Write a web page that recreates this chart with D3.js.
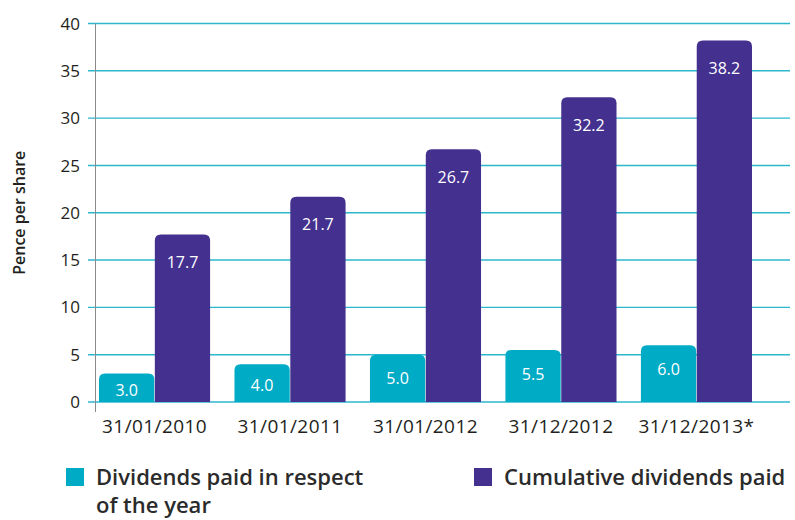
<!DOCTYPE html>
<html>
<head>
<meta charset="utf-8">
<script src="https://cdn.jsdelivr.net/npm/d3@7"></script>
<style>
  body { margin: 0; background: #fff; }
  svg { display: block; font-family: "Open Sans", "Noto Sans", sans-serif; }
</style>
</head>
<body>
<div id="chart"></div>
<script>
// data
var periods = ["31/01/2010", "31/01/2011", "31/01/2012", "31/12/2012", "31/12/2013*"];
var yearDividends = [3.0, 4.0, 5.0, 5.5, 6.0];
var cumulativeDividends = [17.7, 21.7, 26.7, 32.2, 38.2];
var seriesNames = ["Dividends paid in respect of the year", "Cumulative dividends paid"];
var seriesColors = ["#00abc6", "#44318f"];
var yTicks = [0, 5, 10, 15, 20, 25, 30, 35, 40];

var width = 795, height = 520;

var svg = d3.select("#chart").append("svg")
    .attr("width", width)
    .attr("height", height);

var x = d3.scaleBand()
    .domain(periods)
    .range([99, 752])
    .paddingInner(0.18)
    .paddingOuter(0);

var x1 = d3.scaleBand()
    .domain([0, 1])
    .range([0, x.bandwidth()])
    .paddingInner(0.01);

var y = d3.scaleLinear()
    .domain([0, 40])
    .range([402, 23.5]);

// gridlines
svg.append("g")
    .selectAll("line")
    .data(yTicks)
    .enter()
    .append("line")
    .attr("x1", 88)
    .attr("x2", 790)
    .attr("y1", function(d) { return y(d); })
    .attr("y2", function(d) { return y(d); })
    .attr("stroke", "#2cb7cc")
    .attr("stroke-width", 1.4);

// y tick labels
svg.append("g")
    .selectAll("text")
    .data(yTicks)
    .enter()
    .append("text")
    .attr("x", 80)
    .attr("y", function(d) { return y(d); })
    .attr("dy", "0.36em")
    .attr("text-anchor", "end")
    .style("font-size", "17px")
    .style("font-weight", 500)
    .attr("fill", "#231f20")
    .text(function(d) { return d; });

// vertical axis line
svg.append("line")
    .attr("x1", 95.5).attr("x2", 95.5)
    .attr("y1", y(40)).attr("y2", y(0) + 10)
    .attr("stroke", "#8a8a8a")
    .attr("stroke-width", 1);

svg.append("text")
    .attr("transform", "translate(25," + (y(20) - 0) + ") rotate(-90)")
    .attr("text-anchor", "middle")
    .style("font-size", "16px")
    .style("font-weight", 600)
    .attr("fill", "#231f20")
    .text("Pence per share");

function topRounded(x0, w, top, bottom, r) {
    r = Math.min(r, (bottom - top));
    return "M" + x0 + "," + bottom +
        "V" + (top + r) +
        "Q" + x0 + "," + top + " " + (x0 + r) + "," + top +
        "H" + (x0 + w - r) +
        "Q" + (x0 + w) + "," + top + " " + (x0 + w) + "," + (top + r) +
        "V" + bottom + "Z";
}

var rows = periods.map(function(p, i) {
    return { period: p, values: [yearDividends[i], cumulativeDividends[i]] };
});

var groups = svg.append("g")
    .selectAll("g")
    .data(rows)
    .enter()
    .append("g")
    .attr("transform", function(d) { return "translate(" + x(d.period) + ",0)"; });

groups.selectAll("path")
    .data(function(d) { return d.values; })
    .enter()
    .append("path")
    .attr("d", function(d, i) {
        return topRounded(x1(i), x1.bandwidth(), y(d), y(0), 6);
    })
    .attr("fill", function(d, i) { return seriesColors[i]; });

groups.selectAll("text.val")
    .data(function(d) { return d.values; })
    .enter()
    .append("text")
    .attr("class", "val")
    .attr("x", function(d, i) { return x1(i) + x1.bandwidth() / 2; })
    .attr("y", function(d, i) {
        var top = y(d);
        if (i == 1) return top + 28;
        return Math.min(top + 24, (top + y(0)) / 2 + 2);
    })
    .attr("dy", "0.36em")
    .attr("text-anchor", "middle")
    .style("font-size", "16px")
    .attr("fill", "#fff")
    .text(function(d) { return d.toFixed(1); });

// category labels
svg.append("g")
    .selectAll("text")
    .data(periods)
    .enter()
    .append("text")
    .attr("x", function(d) { return x(d) + x.bandwidth() / 2; })
    .attr("y", 433)
    .attr("text-anchor", "middle")
    .style("font-size", "19px")
    .style("letter-spacing", "0.4px")
    .attr("fill", "#231f20")
    .text(function(d) { return d; });

// legend
var legendX = [66, 474];
var legend = svg.append("g")
    .selectAll("g")
    .data(seriesNames)
    .enter()
    .append("g")
    .attr("transform", function(d, i) { return "translate(" + legendX[i] + ",468)"; });

legend.append("rect")
    .attr("width", 18)
    .attr("height", 18)
    .attr("fill", function(d, i) { return seriesColors[i]; });

legend.append("text")
    .attr("x", 30)
    .attr("y", 17)
    .style("font-size", "22px")
    .style("font-weight", 600)
    .attr("fill", "#2b2b2b")
    .each(function(d, i) {
        var t = d3.select(this);
        var lines = i == 0 ? ["Dividends paid in respect", "of the year"] : [d];
        lines.forEach(function(l, k) {
            t.append("tspan").attr("x", 30).attr("dy", k == 0 ? 0 : 28).text(l);
        });
    });
</script>
</body>
</html>
